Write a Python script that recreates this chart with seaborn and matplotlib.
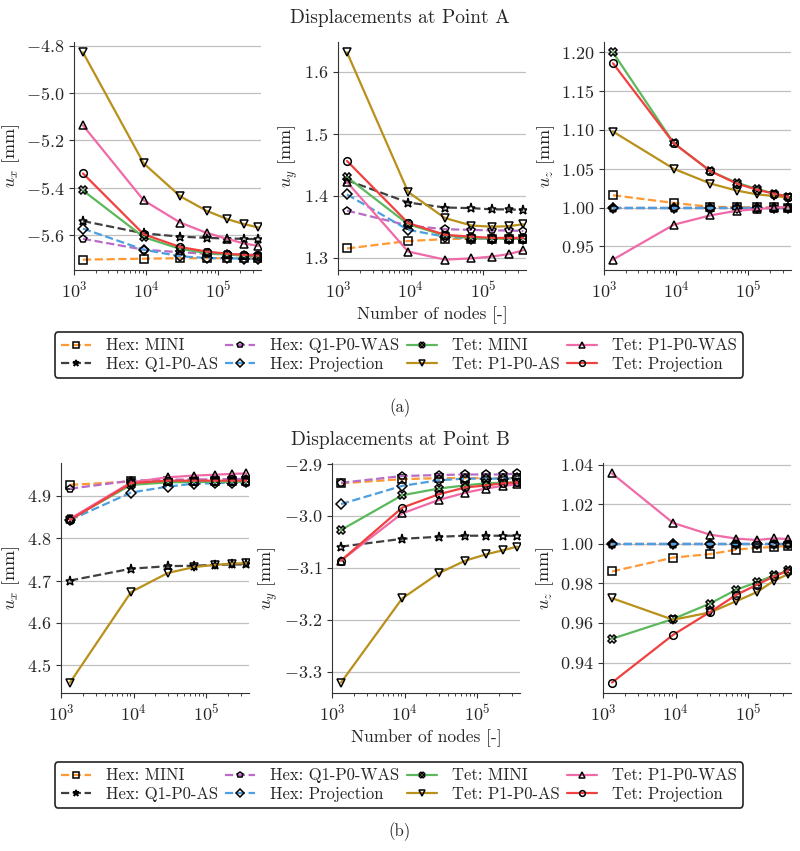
import matplotlib
matplotlib.use("Agg")
import matplotlib.pyplot as plt
import seaborn as sns

# number of nodes (mesh refinement levels)
nodes = [1331, 9261, 29791, 68921, 132651, 226981, 357911]

labels = ["Hex: MINI", "Hex: Q1-P0-AS", "Hex: Q1-P0-WAS", "Hex: Projection",
          "Tet: MINI", "Tet: P1-P0-AS", "Tet: P1-P0-WAS", "Tet: Projection"]
colors = ["#ff9933", "#404040", "#b86cc6", "#4c9fe0",
          "#5cb85c", "#b8901a", "#f06aa8", "#f04040"]
markers = ["s", "*", "p", "D", "X", "v", "^", "o"]
styles = ["--", "--", "--", "--", "-", "-", "-", "-"]

# Point A
a_ux = [
    [-5.703, -5.699, -5.697, -5.697, -5.697, -5.697, -5.697],
    [-5.540, -5.592, -5.606, -5.611, -5.614, -5.615, -5.617],
    [-5.615, -5.661, -5.672, -5.678, -5.681, -5.682, -5.683],
    [-5.572, -5.661, -5.689, -5.696, -5.697, -5.699, -5.699],
    [-5.411, -5.608, -5.658, -5.675, -5.682, -5.686, -5.689],
    [-4.828, -5.297, -5.436, -5.497, -5.532, -5.553, -5.567],
    [-5.136, -5.453, -5.547, -5.590, -5.615, -5.635, -5.645],
    [-5.339, -5.596, -5.650, -5.669, -5.678, -5.683, -5.686],
]
a_uy = [
    [1.315, 1.327, 1.330, 1.331, 1.331, 1.331, 1.331],
    [1.425, 1.389, 1.381, 1.380, 1.378, 1.378, 1.377],
    [1.376, 1.352, 1.346, 1.345, 1.344, 1.344, 1.343],
    [1.402, 1.345, 1.334, 1.331, 1.331, 1.331, 1.331],
    [1.430, 1.354, 1.336, 1.332, 1.331, 1.331, 1.331],
    [1.631, 1.406, 1.364, 1.352, 1.350, 1.351, 1.354],
    [1.422, 1.310, 1.297, 1.299, 1.302, 1.306, 1.312],
    [1.456, 1.356, 1.337, 1.334, 1.332, 1.332, 1.332],
]
a_uz = [
    [1.016, 1.006, 1.001, 1.0005, 1.0003, 1.0002, 1.0001],
    [1.000, 1.000, 1.000, 1.000, 1.000, 1.000, 1.000],
    [1.000, 1.000, 1.000, 1.000, 1.000, 1.000, 1.000],
    [1.000, 1.000, 1.000, 1.000, 1.000, 1.000, 1.000],
    [1.200, 1.083, 1.047, 1.032, 1.024, 1.018, 1.014],
    [1.098, 1.050, 1.031, 1.022, 1.017, 1.015, 1.013],
    [0.933, 0.978, 0.990, 0.996, 0.998, 1.000, 1.0005],
    [1.186, 1.083, 1.047, 1.031, 1.023, 1.018, 1.014],
]

# Point B
b_ux = [
    [4.926, 4.934, 4.936, 4.936, 4.936, 4.936, 4.936],
    [4.700, 4.728, 4.734, 4.735, 4.737, 4.738, 4.738],
    [4.917, 4.936, 4.938, 4.939, 4.939, 4.940, 4.940],
    [4.843, 4.908, 4.922, 4.929, 4.930, 4.931, 4.932],
    [4.845, 4.926, 4.932, 4.933, 4.933, 4.933, 4.933],
    [4.459, 4.673, 4.718, 4.732, 4.737, 4.740, 4.741],
    [4.846, 4.932, 4.944, 4.948, 4.950, 4.952, 4.953],
    [4.843, 4.930, 4.936, 4.936, 4.936, 4.936, 4.936],
]
b_uy = [
    [-2.937, -2.929, -2.927, -2.927, -2.927, -2.927, -2.927],
    [-3.059, -3.044, -3.040, -3.038, -3.038, -3.038, -3.038],
    [-2.936, -2.923, -2.921, -2.920, -2.920, -2.920, -2.918],
    [-2.977, -2.942, -2.931, -2.928, -2.928, -2.928, -2.927],
    [-3.027, -2.960, -2.947, -2.941, -2.937, -2.936, -2.935],
    [-3.321, -3.159, -3.110, -3.086, -3.074, -3.066, -3.059],
    [-3.086, -2.995, -2.969, -2.955, -2.947, -2.942, -2.939],
    [-3.086, -2.984, -2.958, -2.945, -2.941, -2.937, -2.935],
]
b_uz = [
    [0.986, 0.993, 0.9948, 0.997, 0.998, 0.9983, 0.999],
    [1.000, 1.000, 1.000, 1.000, 1.000, 1.000, 1.000],
    [1.000, 1.000, 1.000, 1.000, 1.000, 1.000, 1.000],
    [1.000, 1.000, 1.000, 1.000, 1.000, 1.000, 1.000],
    [0.952, 0.962, 0.9698, 0.9768, 0.9806, 0.984, 0.9865],
    [0.9725, 0.9616, 0.9653, 0.971, 0.9756, 0.9813, 0.9847],
    [1.0355, 1.0105, 1.0046, 1.0026, 1.0019, 1.0027, 1.0024],
    [0.9299, 0.954, 0.9655, 0.9742, 0.9793, 0.9835, 0.9864],
]

sns.set_style("ticks")
plt.rcParams["font.family"] = ["cmr10", "DejaVu Serif"]
plt.rcParams["mathtext.fontset"] = "cm"
plt.rcParams["axes.formatter.use_mathtext"] = True
plt.rcParams["axes.unicode_minus"] = True

W, H = 800, 851
fig = plt.figure(figsize=(W / 100, H / 100), dpi=100)


def add_ax(x0, x1, ytop, ybot):
    return fig.add_axes([x0 / W, 1 - ybot / H, (x1 - x0) / W, (ybot - ytop) / H])


def draw(ax, data, ylabel, xlabel=None):
    for vals, lab, c, m, ls in zip(data, labels, colors, markers, styles):
        ms = 6.5 if m == "*" else 5.5
        sns.lineplot(x=nodes, y=vals, ax=ax, color=c, linestyle=ls, lw=1.6,
                     marker=m, ms=ms, mfc="none", mec="k", mew=1.1,
                     label=lab, legend=False)
    ax.set_xscale("log")
    ax.set_xlim(1e3, 3.9e5)
    ax.grid(axis="y", color="#c0c0c0", lw=0.9)
    ax.set_axisbelow(True)
    sns.despine(ax=ax)
    for s in ("left", "bottom"):
        ax.spines[s].set_color("#333333")
    ax.tick_params(axis="both", labelsize=13, length=3.5, color="#333333")
    ax.tick_params(axis="x", which="minor", length=2)
    ax.set_ylabel(ylabel, fontsize=13, labelpad=3)
    ax.set_xlabel(xlabel if xlabel else "", fontsize=12.5)


# (a) Point A
ax1 = add_ax(74, 261, 42, 270)
ax2 = add_ax(338, 526, 42, 270)
ax3 = add_ax(604, 791, 42, 270)
draw(ax1, a_ux, r"$u_x$ [mm]")
draw(ax2, a_uy, r"$u_y$ [mm]", "Number of nodes [-]")
draw(ax3, a_uz, r"$u_z$ [mm]")
fig.text(0.5, 1 - 18 / H, "Displacements at Point A", ha="center", va="center", fontsize=14)

# (b) Point B
ax4 = add_ax(61, 249, 463, 693)
ax5 = add_ax(332, 520, 463, 693)
ax6 = add_ax(603, 791, 463, 693)
draw(ax4, b_ux, r"$u_x$ [mm]")
draw(ax5, b_uy, r"$u_y$ [mm]", "Number of nodes [-]")
draw(ax6, b_uz, r"$u_z$ [mm]")
fig.text(0.5, 1 - 440 / H, "Displacements at Point B", ha="center", va="center", fontsize=14)

handles, labs = ax1.get_legend_handles_labels()
for yc in (355, 785):
    leg = fig.legend(handles, labs, ncol=4, loc="center",
                     bbox_to_anchor=(399 / W, 1 - yc / H), fontsize=12,
                     frameon=True, fancybox=True, edgecolor="#222222",
                     framealpha=1, markerscale=0.75, handlelength=1.8,
                     columnspacing=0.45, labelspacing=0.2, borderpad=0.35,
                     handletextpad=0.9)
    leg.get_frame().set_linewidth(1.2)

fig.text(0.5, 1 - 408 / H, "(a)", ha="center", va="center", fontsize=12)
fig.text(0.5, 1 - 832 / H, "(b)", ha="center", va="center", fontsize=12)

fig.savefig("out.png", dpi=100)
